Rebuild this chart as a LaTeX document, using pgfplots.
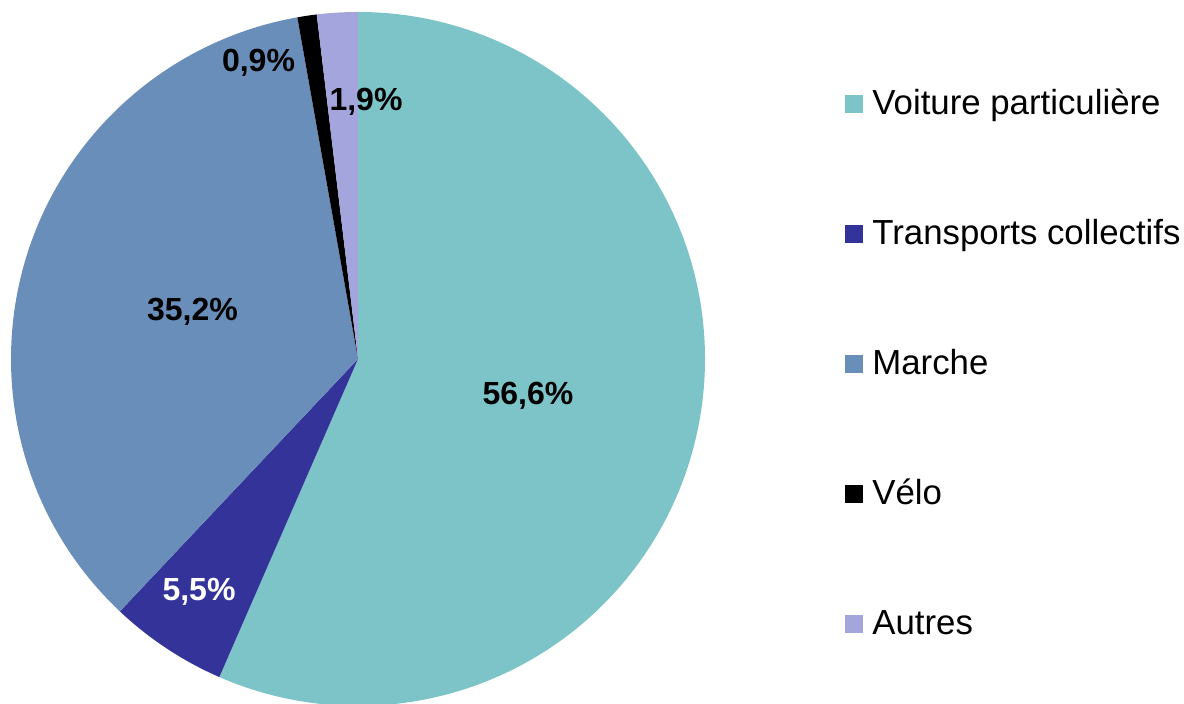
\documentclass[border=0pt]{standalone}
\usepackage{pgfplots}
\pgfplotsset{compat=1.18}
\usepackage{fontspec}
\setmainfont{Liberation Sans}
\definecolor{cVoiture}{HTML}{7DC4C8}
\definecolor{cTransports}{HTML}{333399}
\definecolor{cMarche}{HTML}{6A8EBA}
\definecolor{cVelo}{HTML}{000000}
\definecolor{cAutres}{HTML}{A5A5DE}
% slice: start %, end %, colour  (total = 100.1); centre (358,345), radius 347 px
\newcommand{\slice}[3]{%
  \fill[#3] (axis cs:358,345) -- (axis cs:{358+347*cos(90-3.6*(#1/1.001))},{345+347*sin(90-3.6*(#1/1.001))})
    arc[start angle={90-3.6*(#1/1.001)}, end angle={90-3.6*(#2/1.001)}, radius=173.5pt] -- cycle;}
\begin{document}
\begin{tikzpicture}
\begin{axis}[
  scale only axis, width=592pt, height=352pt,
  xmin=0, xmax=1184, ymin=0, ymax=704,
  hide axis, clip=false,
]
% values: Voiture 56.6, Transports 5.5, Marche 35.2, Velo 0.9, Autres 1.9
\slice{0}{56.6}{cVoiture}
\slice{56.6}{62.1}{cTransports}
\slice{62.1}{97.3}{cMarche}
\slice{97.3}{98.2}{cVelo}
\slice{98.2}{100.1}{cAutres}
\begin{scope}[every node/.style={font=\fontsize{16}{19}\selectfont\bfseries, anchor=base}]
\node at (axis cs:528,299) {56,6\%};
\node[text=white] at (axis cs:199,103) {5,5\%};
\node at (axis cs:192.5,383) {35,2\%};
\node at (axis cs:258.5,632) {0,9\%};
\node at (axis cs:366,593) {1,9\%};
\end{scope}
% legend
\addplot[cVoiture, only marks, mark=square*, mark size=4.4pt, mark options={fill=cVoiture, draw=cVoiture, line width=0pt}] coordinates {(854,600)};
\addplot[cTransports, only marks, mark=square*, mark size=4.4pt, mark options={fill=cTransports, draw=cTransports, line width=0pt}] coordinates {(854,470)};
\addplot[cMarche, only marks, mark=square*, mark size=4.4pt, mark options={fill=cMarche, draw=cMarche, line width=0pt}] coordinates {(854,340)};
\addplot[cVelo, only marks, mark=square*, mark size=4.4pt, mark options={fill=cVelo, draw=cVelo, line width=0pt}] coordinates {(854,210)};
\addplot[cAutres, only marks, mark=square*, mark size=4.4pt, mark options={fill=cAutres, draw=cAutres, line width=0pt}] coordinates {(854,80)};
\begin{scope}[every node/.style={font=\fontsize{17.4}{20}\selectfont, anchor=base west, inner sep=0pt}]
\node at (axis cs:872,589) {Voiture particulière};
\node at (axis cs:872,459) {Transports collectifs};
\node at (axis cs:872,329) {Marche};
\node at (axis cs:872,199) {Vélo};
\node at (axis cs:872,69) {Autres};
\end{scope}
\end{axis}
\pgfresetboundingbox
\path (0,0) rectangle (592pt,352pt);
\end{tikzpicture}
\end{document}
